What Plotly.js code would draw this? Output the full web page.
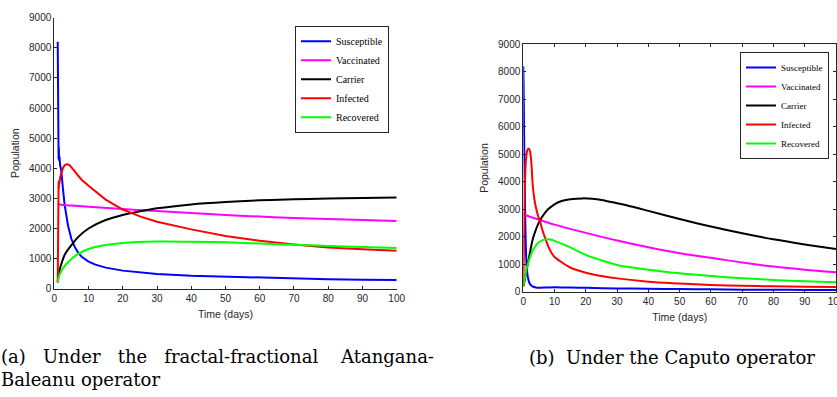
<!DOCTYPE html>
<html>
<head>
<meta charset="utf-8">
<script src="https://cdn.plot.ly/plotly-3.0.1.min.js"></script>
<style>
  html, body { margin: 0; padding: 0; background: #ffffff; }
  #chart { width: 837px; height: 397px; }
</style>
</head>
<body>
<div id="chart"></div>
<script>
// ---------- Series names ----------
const seriesNames = ["Susceptible", "Vaccinated", "Carrier", "Infected", "Recovered"];
const seriesColors = ["#0000ff", "#ff00ff", "#000000", "#ff0000", "#00ff00"];

// ---------- (a) Fractal-fractional Atangana-Baleanu ----------
const tS_ab = [1, 1.03, 1.07, 1.12, 1.18, 1.25, 1.32, 1.4, 1.5, 1.7, 2, 2.5, 3, 4, 5, 6, 7, 8, 10, 12, 15, 20, 25, 30, 40, 50, 60, 70, 80, 90, 100];
const S_ab  = [8200, 4800, 6600, 4400, 5600, 4300, 4700, 4250, 4400, 4100, 3950, 3350, 2800, 2100, 1650, 1380, 1190, 1060, 900, 800, 700, 600, 530, 485, 430, 400, 360, 335, 315, 300, 285];

const tV_ab = [1, 2, 5, 10, 20, 30, 40, 50, 60, 70, 80, 90, 100];
const V_ab  = [2810, 2790, 2760, 2720, 2645, 2580, 2510, 2450, 2395, 2350, 2315, 2280, 2245];

const tC_ab = [1, 1.5, 2, 3, 4, 5, 7, 10, 15, 20, 25, 30, 40, 50, 60, 70, 80, 90, 100];
const C_ab  = [250, 600, 800, 1120, 1300, 1450, 1720, 2000, 2280, 2450, 2570, 2670, 2800, 2880, 2935, 2970, 2995, 3010, 3025];

const tI_ab = [1, 1.03, 1.07, 1.12, 1.18, 1.25, 1.32, 1.4, 1.5, 1.7, 2, 2.5, 3, 3.7, 4.5, 5, 6, 7, 8, 10, 12, 15, 20, 25, 30, 40, 50, 60, 70, 80, 90, 100];
const I_ab  = [200, 3300, 2100, 3500, 2800, 3550, 3300, 3600, 3500, 3700, 3830, 4000, 4100, 4140, 4100, 4040, 3900, 3750, 3620, 3420, 3230, 2960, 2630, 2400, 2225, 1970, 1750, 1590, 1470, 1370, 1310, 1260];

const tR_ab = [1, 1.5, 2, 3, 4, 5, 7, 10, 15, 20, 30, 40, 50, 60, 70, 80, 90, 100];
const R_ab  = [220, 450, 580, 750, 880, 990, 1160, 1320, 1450, 1520, 1565, 1560, 1540, 1500, 1460, 1420, 1385, 1350];

// ---------- (b) Caputo ----------
const tS_c = [0, 0.15, 0.3, 0.45, 0.6, 0.8, 1, 1.3, 1.6, 2, 2.5, 3, 4, 5, 7, 10, 15, 20, 30, 40, 50, 60, 70, 80, 90, 100];
const S_c  = [8200, 7000, 5200, 3900, 2800, 1700, 1050, 650, 450, 310, 230, 190, 155, 145, 150, 165, 150, 140, 120, 105, 95, 85, 75, 70, 65, 60];

const tV_c = [0, 5, 10, 20, 30, 40, 50, 60, 70, 80, 90, 100];
const V_c  = [2820, 2620, 2440, 2140, 1860, 1615, 1400, 1235, 1060, 915, 800, 705];

const tC_c = [0, 0.5, 1, 1.5, 2, 3, 4, 5, 6, 7, 8, 10, 12, 15, 19, 22, 25, 30, 35, 40, 50, 60, 70, 80, 90, 100];
const C_c  = [200, 450, 750, 1050, 1350, 1900, 2250, 2520, 2720, 2880, 3010, 3180, 3290, 3360, 3395, 3380, 3340, 3220, 3090, 2940, 2645, 2370, 2125, 1905, 1720, 1555];

const tI_c = [0, 0.15, 0.3, 0.5, 0.8, 1.1, 1.4, 1.8, 2.2, 2.6, 3, 3.5, 4, 4.5, 5.3, 6, 7, 8, 9, 10, 12.8, 15, 20, 25, 30, 40, 50, 60, 70, 80, 90, 100];
const I_c  = [200, 1200, 2600, 3900, 4700, 5050, 5180, 5200, 5080, 4650, 3900, 3400, 3080, 2850, 2580, 2280, 1950, 1640, 1420, 1260, 1030, 880, 690, 570, 485, 365, 300, 245, 215, 195, 180, 170];

const tR_c = [0, 0.5, 1, 1.5, 2, 3, 4, 5, 6, 7, 8, 9, 10, 12, 15, 20, 25, 30, 40, 50, 60, 70, 80, 90, 100];
const R_c  = [200, 500, 800, 1020, 1200, 1500, 1680, 1800, 1870, 1900, 1905, 1890, 1850, 1760, 1610, 1340, 1140, 975, 800, 670, 570, 490, 428, 378, 340];

// ---------- Axis ticks ----------
const xTicks = [0, 10, 20, 30, 40, 50, 60, 70, 80, 90, 100];
const yTicks = [0, 1000, 2000, 3000, 4000, 5000, 6000, 7000, 8000, 9000];

// ---------- Captions ----------
const NB = "\u00a0";
const captionA = "(a)" + NB.repeat(3) + "Under" + NB.repeat(3) + "the" + NB.repeat(3) +
                 "fractal-fractional" + NB.repeat(4) + "Atangana-<br>Baleanu operator";
const captionB = "(b)" + NB.repeat(2) + "Under the Caputo operator";

// ---------- Build traces ----------
const abX = [tS_ab, tV_ab, tC_ab, tI_ab, tR_ab];
const abY = [S_ab, V_ab, C_ab, I_ab, R_ab];
const cX = [tS_c, tV_c, tC_c, tI_c, tR_c];
const cY = [S_c, V_c, C_c, I_c, R_c];

const traces = [];
seriesNames.forEach((name, i) => {
  traces.push({
    type: "scatter", mode: "lines", name: name,
    x: abX[i], y: abY[i], xaxis: "x", yaxis: "y",
    line: { color: seriesColors[i], width: 2, shape: (i === 0 || i === 3) ? "linear" : "spline" },
    legend: "legend"
  });
});
seriesNames.forEach((name, i) => {
  traces.push({
    type: "scatter", mode: "lines", name: name,
    x: cX[i], y: cY[i], xaxis: "x2", yaxis: "y2",
    line: { color: seriesColors[i], width: 2, shape: "spline", smoothing: 0.8 },
    legend: "legend2"
  });
});

const W = 837, H = 397;
const px = v => v / W;
const py = v => 1 - v / H;

const axisColor = "#262626";
const tickFont = { family: "Liberation Sans, Arial, sans-serif", size: 10, color: axisColor };
const titleFont = { family: "Liberation Sans, Arial, sans-serif", size: 10.5, color: axisColor };

function xAxis(domain, anchor, mirror) {
  return {
    domain: domain, anchor: anchor, range: [0, 100],
    tickmode: "array", tickvals: xTicks, ticktext: xTicks.map(String),
    ticks: "inside", ticklen: 3, tickwidth: 1, tickcolor: axisColor,
    showline: true, linecolor: axisColor, linewidth: 1, mirror: mirror,
    showgrid: false, zeroline: false, tickfont: tickFont,
    ticklabeloverflow: "allow",
    title: { text: "Time (days)", font: titleFont, standoff: 7 }
  };
}
function yAxis(domain, anchor, mirror) {
  return {
    domain: domain, anchor: anchor, range: [0, 9000],
    tickmode: "array", tickvals: yTicks, ticktext: yTicks.map(String),
    ticks: "inside", ticklen: 3, tickwidth: 1, tickcolor: axisColor,
    showline: true, linecolor: axisColor, linewidth: 1, mirror: mirror,
    showgrid: false, zeroline: false, tickfont: tickFont,
    title: { text: "Population", font: titleFont, standoff: 7 }
  };
}

const legendFont = { family: "Liberation Serif, Times New Roman, serif", size: 10, color: "#000000" };
const captionFont = { family: "DejaVu Serif, Liberation Serif, serif", size: 18, color: "#000000" };

const layout = {
  width: W, height: H,
  margin: { l: 0, r: 0, t: 0, b: 0, pad: 0 },
  paper_bgcolor: "#ffffff", plot_bgcolor: "#ffffff",
  showlegend: true,
  xaxis: xAxis([px(54.3), px(396.7)], "y", false),
  yaxis: yAxis([py(288.7), py(17.7)], "x", false),
  xaxis2: xAxis([px(523.3), px(836)], "y2", "allticks"),
  yaxis2: yAxis([py(291.7), py(44.3)], "x2", "allticks"),
  legend: {
    x: px(389), y: py(25.7), xanchor: "right", yanchor: "top",
    bgcolor: "#ffffff", bordercolor: axisColor, borderwidth: 1,
    font: legendFont, itemwidth: 30, tracegroupgap: 0
  },
  legend2: {
    x: px(829), y: py(52), xanchor: "right", yanchor: "top",
    bgcolor: "#ffffff", bordercolor: axisColor, borderwidth: 1,
    font: Object.assign({}, legendFont, { size: 9 }), itemwidth: 30, tracegroupgap: 0
  },
  annotations: [
    {
      xref: "paper", yref: "paper", x: px(-1), y: py(368),
      xanchor: "left", yanchor: "middle", align: "left", showarrow: false,
      text: captionA, font: captionFont
    },
    {
      xref: "paper", yref: "paper", x: px(671.5), y: py(357),
      xanchor: "center", yanchor: "middle", showarrow: false,
      text: captionB, font: captionFont
    }
  ]
};

Plotly.newPlot("chart", traces, layout, { displayModeBar: false, staticPlot: true });
</script>
</body>
</html>
